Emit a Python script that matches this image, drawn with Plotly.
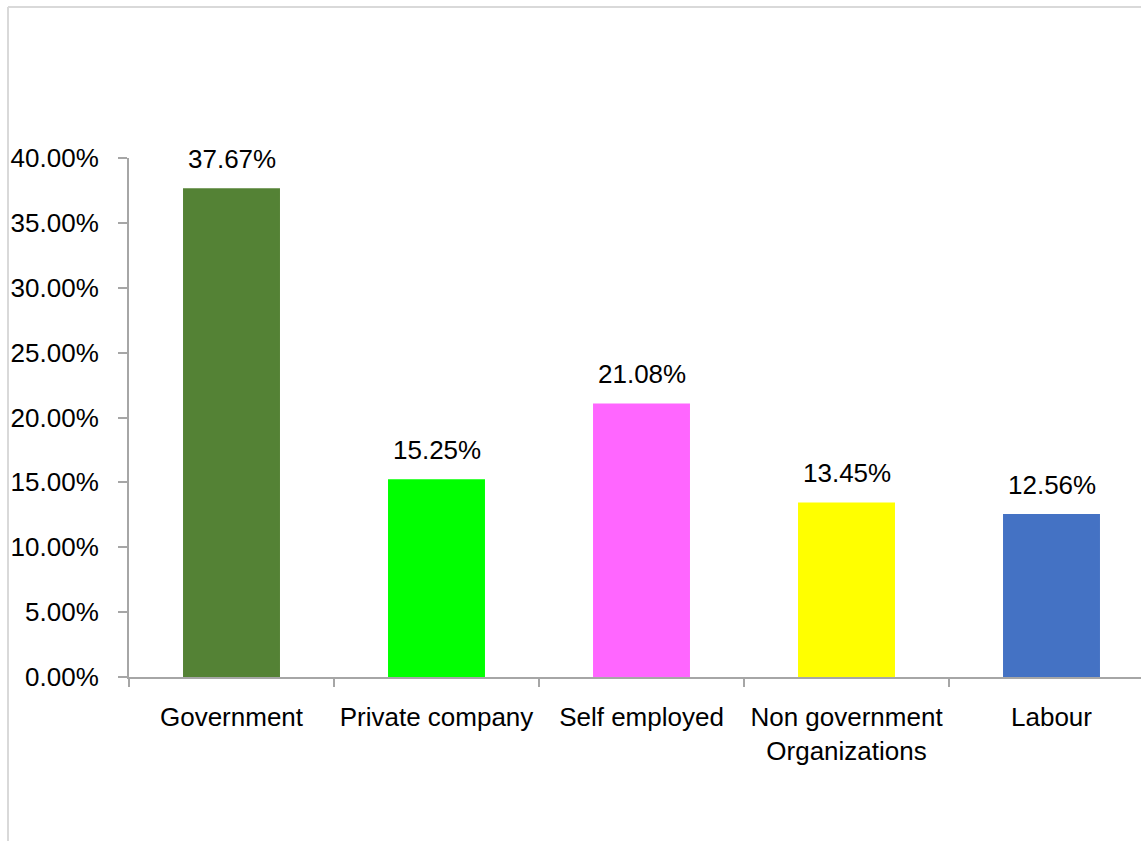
import plotly.graph_objects as go

categories = ["Government", "Private company", "Self employed", "Non government<br>Organizations", "Labour"]
values = [37.67, 15.25, 21.08, 13.45, 12.56]
colors = ["#548235", "#00FF00", "#FF66FF", "#FFFF00", "#4472C4"]
y_ticks = [0, 5, 10, 15, 20, 25, 30, 35, 40]
y_tick_labels = [f"{v:.2f}%" for v in y_ticks]

FONT = "Liberation Sans Narrow, Arial Narrow, Liberation Sans, Arial, sans-serif"
FS = 26

fig = go.Figure()
fig.add_trace(go.Bar(
    x=categories,
    y=values,
    marker=dict(color=colors, line=dict(width=0)),
    width=0.473,
    hoverinfo="skip",
))

for c, v in zip(categories, values):
    fig.add_annotation(
        x=c, y=v, xref="x", yref="y",
        text=f"{v:.2f}%", showarrow=False,
        yanchor="bottom", yshift=12,
        font=dict(family=FONT, size=FS, color="#000000"),
    )

fig.update_layout(
    width=1141, height=841,
    margin=dict(l=129, r=0, t=158, b=164, pad=0),
    paper_bgcolor="white", plot_bgcolor="white",
    showlegend=False,
    font=dict(family=FONT, size=FS, color="#000000"),
    xaxis=dict(
        type="category",
        range=[-0.5, -0.5 + 1012 / 205],
        tickson="boundaries",
        tickangle=0,
        automargin=False,
        ticks="outside", ticklen=8, tickcolor="#a6a6a6", tickwidth=2,
        showline=True, linecolor="#a6a6a6", linewidth=2,
        showgrid=False, zeroline=False,
        ticklabelstandoff=16,
        tickfont=dict(family=FONT, size=FS, color="#000000"),
        fixedrange=True,
    ),
    yaxis=dict(
        range=[0, 40],
        tickmode="array",
        tickvals=y_ticks,
        ticktext=y_tick_labels,
        automargin=False,
        ticks="outside", ticklen=9, tickcolor="#a6a6a6", tickwidth=2,
        showline=True, linecolor="#a6a6a6", linewidth=2,
        showgrid=False, zeroline=False,
        ticklabelstandoff=14,
        tickfont=dict(family=FONT, size=FS, color="#000000"),
        fixedrange=True,
    ),
)

# outer frame (partially visible: top and left edges)
fig.add_shape(type="line", xref="paper", yref="paper", x0=-121/1012, x1=1.02, y0=(677-7)/519, y1=(677-7)/519,
              line=dict(color="#d9d9d9", width=2), layer="below")
fig.add_shape(type="line", xref="paper", yref="paper", x0=-121/1012, x1=-121/1012, y0=-0.5, y1=(677-7)/519,
              line=dict(color="#d9d9d9", width=2), layer="below")

fig.write_html("out.html")
